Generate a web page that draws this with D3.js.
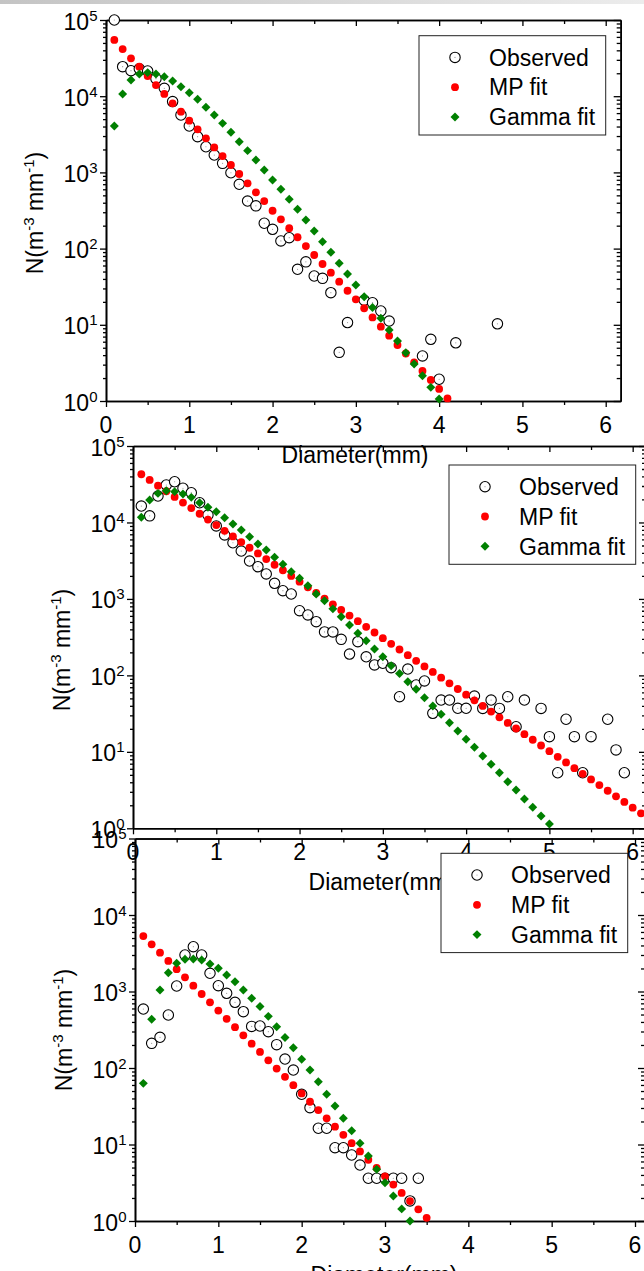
<!DOCTYPE html>
<html>
<head>
<meta charset="utf-8">
<script src="https://cdn.jsdelivr.net/npm/d3@7/dist/d3.min.js"></script>
<style>
  body { margin: 0; background: #fff; }
  svg { display: block; }
  text { font-family: "Liberation Sans", Arial, sans-serif; fill: #000; }
</style>
</head>
<body>
<svg id="chart" width="644" height="1271"></svg>
<script>
// ---- data: [diameter (mm), N (m^-3 mm^-1)] for observed, fits sampled every 0.1 mm from 0.1 ----
const topObserved = [[0.1,100000],[0.2,24400],[0.3,21600],[0.4,22900],[0.5,21400],[0.6,17000],[0.7,12700],
  [0.8,8500],[0.9,5670],[1.0,4060],[1.1,2940],[1.2,2170],[1.3,1690],[1.4,1315],[1.5,990],[1.6,698],[1.7,421],
  [1.8,364],[1.9,215],[2.0,179],[2.1,126],[2.2,139],[2.3,53.5],[2.4,67],[2.5,43.7],[2.6,40.7],[2.7,26.4],
  [2.8,4.35],[2.9,10.7],[3.1,21],[3.2,19.5],[3.3,15.2],[3.4,11.2],[3.8,3.9],[3.9,6.45],[4.0,1.93],[4.2,5.8],[4.7,10.3]];
const topMP = [54700,41600,31400,24400,18400,14000,10700,8070,6270,4770,3670,2800,2130,1640,1250,953,719,548,421,
  314,242,185,141,108,82.4,62.8,48.3,36.8,28,21.6,16.5,12.5,9.44,7.19,5.43,4.2,3.22,2.48,1.89,1.44,1.08];
const topGamma = [4060,10700,16300,19600,20400,19600,18000,15800,13300,11100,9100,7150,5670,4400,3360,2530,1930,
  1455,1075,794,600,443,328,237,170,123,89.4,64.1,46.4,33.3,23.4,16.9,12.2,8.55,6.13,4.31,3.06,2.15,1.51,1.06];

const midObserved = [[0.1,16400],[0.2,12200],[0.3,22200],[0.4,30900],[0.5,34100],[0.6,28000],[0.7,24500],
  [0.8,18100],[0.9,12500],[1.0,9000],[1.1,6860],[1.2,5430],[1.3,4230],[1.4,3130],[1.5,2640],[1.6,2120],[1.7,1600],
  [1.8,1280],[1.9,1160],[2.0,701],[2.1,617],[2.2,504],[2.3,370],[2.4,370],[2.5,296],[2.6,190],[2.7,276],[2.8,175],
  [2.9,137],[3.0,144],[3.1,126],[3.2,52.6],[3.3,121],[3.4,74.8],[3.5,84.5],[3.6,31.9],[3.7,47.6],[3.8,47.6],
  [3.9,37.1],[4.0,37.1],[4.1,53.7],[4.2,37],[4.3,47.6],[4.4,37],[4.5,52.6],[4.6,21.3],[4.7,47.6],[4.9,37],
  [5.0,15.8],[5.1,5.33],[5.2,26.7],[5.3,15.8],[5.4,5.33],[5.5,15.8],[5.7,26.7],[5.8,10.6],[5.9,5.33]];
const midMP = [42700,36000,30300,25600,21600,18200,15400,13000,10900,9230,7780,6560,5540,4670,3940,3320,2800,
  2370,2000,1680,1420,1200,1010,851,718,606,511,431,364,307,259,218,184,155,131,111,93.3,78.7,66.4,56,47.2,
  39.8,33.6,28.3,23.9,20.2,17,14.4,12.1,10.2,8.61,7.26,6.12,5.16,4.36,3.68,3.1,2.62,2.21,1.86,1.57];
const midGamma = [11700,19700,24000,26000,25300,23600,21300,18100,15800,13800,11500,9550,7970,6510,5230,4360,
  3500,2840,2270,1860,1490,1160,944,741,586,456,355,284,221,175,134,106,82.6,65.8,51,39.8,31,24,18.7,14.6,
  11.5,8.83,6.87,5.33,4.07,3.17,2.42,1.88,1.45,1.14];

const botObserved = [[0.1,590],[0.2,210],[0.3,252],[0.4,493],[0.5,1180],[0.6,3000],[0.7,3850],[0.8,3000],
  [0.9,1730],[1.0,1190],[1.1,947],[1.2,722],[1.3,545],[1.4,350],[1.5,354],[1.6,298],[1.7,202],[1.8,131],
  [1.9,94],[2.0,45.3],[2.1,30.3],[2.2,16.3],[2.3,16.3],[2.4,9.08],[2.5,9.08],[2.6,7.29],[2.7,5.39],[2.8,3.62],
  [2.9,3.62],[3.0,3.62],[3.1,3.62],[3.2,3.62],[3.3,1.83],[3.4,3.62]];
const botMP = [5310,4140,3220,2510,1960,1530,1190,927,722,563,439,342,267,208,162,126,98.2,76.6,59.7,46.5,
  36.2,28.2,22,17.1,13.4,10.4,8.11,6.32,4.93,3.84,2.99,2.33,1.82,1.42,1.1];
const botGamma = [63,433,1047,1760,2340,2640,2660,2580,2290,2010,1640,1340,1047,815,637,473,346,251,184,130,
  94,66,45.3,31.9,22,15.1,10.4,7.08,4.74,3.17,2.12,1.44,1.0];

const fitStart = 0.1, fitStep = 0.1;
const xMajor = [0, 1, 2, 3, 4, 5, 6];
const xMinor = [0.5, 1.5, 2.5, 3.5, 4.5, 5.5];
const yDecades = [0, 1, 2, 3, 4, 5];
const legendNames = ['Observed', 'MP fit', 'Gamma fit'];
const xTitle = 'Diameter(mm)';

// ---- layout of the three stacked panels ----
const panels = [
  { obs: topObserved, mp: topMP, gamma: topGamma, left: 106, right: 620.7, top: 20, bottom: 401, xMax: 6.18, titleY: 213, legend: [313, 15.7] },
  { obs: midObserved, mp: midMP, gamma: midGamma, left: 133, right: 646, top: 446, bottom: 828.3, xMax: 6.16, titleY: 650, legend: [316, 19] },
  { obs: botObserved, mp: botMP, gamma: botGamma, left: 135, right: 645, top: 838.5, bottom: 1221, xMax: 6.12, titleY: 1030, legend: [306, 14.8] }
];

const svg = d3.select('#chart');

// thin grey strip along the very top
const grad = svg.append('defs').append('linearGradient').attr('id', 'topband');
grad.append('stop').attr('offset', '0%').attr('stop-color', '#c4c4c4');
grad.append('stop').attr('offset', '100%').attr('stop-color', '#ececec');
svg.append('rect').attr('x', 0).attr('y', 0).attr('width', 644).attr('height', 4).attr('fill', 'url(#topband)');

const diamond = d3.symbol().type(d3.symbolSquare).size(40);

function supText(sel, parts) {
  // parts: [text, isSup]
  let raised = false;
  parts.forEach(([t, sup]) => {
    const ts = sel.append('tspan').text(t);
    if (sup && !raised) { ts.attr('font-size', 15).attr('dy', -9); raised = true; }
    else if (!sup && raised) { ts.attr('dy', 9); raised = false; }
    else if (sup) ts.attr('font-size', 15);
  });
}

function drawPanel(p) {
  const g = svg.append('g');
  const x = d3.scaleLinear().domain([0, p.xMax]).range([p.left, p.right]);
  const y = d3.scaleLog().domain([1, 1e5]).range([p.bottom, p.top]);

  const yMinor = [];
  for (let e = 0; e < 5; e++) for (let k = 2; k <= 9; k++) yMinor.push(k * Math.pow(10, e));
  const yMajor = yDecades.map(e => Math.pow(10, e));

  const axes = g.append('g').attr('class', 'axes');
  function addAxis(axis, tf, values, size) {
    const a = axes.append('g').attr('transform', tf)
      .call(axis.tickValues(values).tickSize(size).tickSizeOuter(0).tickFormat(''));
    a.selectAll('line').attr('stroke', '#000').attr('stroke-width', 1.3);
    a.select('.domain').attr('stroke', '#000').attr('stroke-width', 1.6);
  }
  addAxis(d3.axisBottom(x), `translate(0,${p.bottom})`, xMajor, 6);
  addAxis(d3.axisBottom(x), `translate(0,${p.bottom})`, xMinor, 4);
  addAxis(d3.axisTop(x), `translate(0,${p.top})`, xMajor, -6);
  addAxis(d3.axisTop(x), `translate(0,${p.top})`, xMinor, -4);
  addAxis(d3.axisLeft(y), `translate(${p.left},0)`, yMajor, 6);
  addAxis(d3.axisLeft(y), `translate(${p.left},0)`, yMinor, 3);
  addAxis(d3.axisRight(y), `translate(${p.right},0)`, yMajor, -7);
  addAxis(d3.axisRight(y), `translate(${p.right},0)`, yMinor, -4);

  // tick labels
  g.append('g').selectAll('text').data(xMajor).join('text')
    .attr('x', d => x(d)).attr('y', p.bottom + 32)
    .attr('text-anchor', 'middle').attr('font-size', 23).text(d => d);
  g.append('g').selectAll('text').data(yDecades).join('text')
    .attr('x', p.left - 8.5).attr('y', d => y(Math.pow(10, d)) + 9.5)
    .attr('text-anchor', 'end').attr('font-size', 23)
    .each(function (d) { supText(d3.select(this), [['10', false], [String(d), true]]); });

  // axis titles
  g.append('text').attr('x', p.left + 249).attr('y', p.bottom + 62)
    .attr('text-anchor', 'middle').attr('font-size', 23).text(xTitle);
  const yt = g.append('text')
    .attr('transform', `translate(${p.left - 63},${p.titleY}) rotate(-90)`)
    .attr('text-anchor', 'middle').attr('font-size', 23);
  supText(yt, [['N(m', false], ['-3', true], [' mm', false], ['-1', true], [')', false]]);

  // marks
  const fitX = i => fitStart + i * fitStep;
  const marks = g.append('g');
  const obs = marks.append('g').selectAll('g').data(p.obs).join('g')
    .attr('transform', d => `translate(${x(d[0])},${y(d[1])})`);
  obs.append('circle').attr('r', 5.2).attr('fill', '#fff').attr('stroke', '#000').attr('stroke-width', 1.1);
  obs.append('circle').attr('r', 0.6).attr('fill', '#999');

  marks.append('g').selectAll('circle').data(p.mp).join('circle')
    .attr('cx', (d, i) => x(fitX(i))).attr('cy', d => y(d))
    .attr('r', 3.9).attr('fill', '#ff0000');

  marks.append('g').selectAll('path').data(p.gamma).join('path')
    .attr('d', diamond)
    .attr('transform', (d, i) => `translate(${x(fitX(i))},${y(d)}) rotate(45)`)
    .attr('fill', '#008000');

  // legend
  const lg = g.append('g').attr('transform', `translate(${p.left + p.legend[0]},${p.top + p.legend[1]})`);
  lg.append('rect').attr('width', 186.7).attr('height', 99.3)
    .attr('fill', '#fff').attr('stroke', '#222').attr('stroke-width', 1);
  legendNames.forEach((name, i) => {
    const cy = 21.7 + i * 29.8;
    if (i === 0) {
      lg.append('circle').attr('cx', 36).attr('cy', cy).attr('r', 5.2)
        .attr('fill', '#fff').attr('stroke', '#000').attr('stroke-width', 1.1);
      lg.append('circle').attr('cx', 36).attr('cy', cy).attr('r', 0.6).attr('fill', '#999');
    } else if (i === 1) {
      lg.append('circle').attr('cx', 36).attr('cy', cy).attr('r', 3.9).attr('fill', '#ff0000');
    } else {
      lg.append('path').attr('d', diamond)
        .attr('transform', `translate(36,${cy}) rotate(45)`).attr('fill', '#008000');
    }
    lg.append('text').attr('x', 70).attr('y', cy + 8.3).attr('font-size', 23).text(name);
  });
}

panels.forEach(drawPanel);
</script>
</body>
</html>
